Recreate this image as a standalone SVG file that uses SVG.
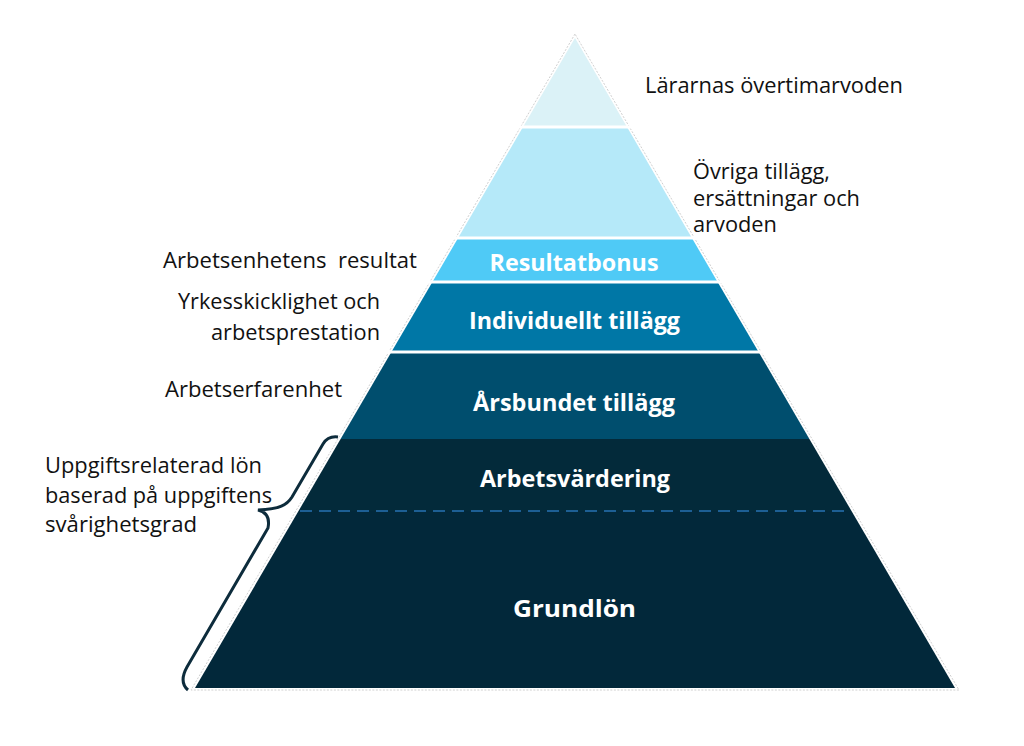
<svg xmlns="http://www.w3.org/2000/svg" width="1024" height="746" viewBox="0 0 1024 746">
<style>
.lbl{font-family:"Open Sans","Noto Sans","Liberation Sans",sans-serif;font-size:21px;fill:#111111}
.bl{font-family:"Open Sans","Noto Sans","Liberation Sans",sans-serif;font-size:24px;font-weight:bold;fill:#ffffff;text-anchor:middle}
.sep{stroke:#ffffff;stroke-width:3}
</style>
<rect width="1024" height="746" fill="#ffffff"/>
<polygon points="575,34 191,690 959,690" fill="none" stroke="#c4c4c4" stroke-width="0.8" stroke-dasharray="2 1.5"/>
<g id="layer-top"><polygon points="575,38 627,127 523,127" fill="#dbf2f7"/></g>
<g id="layer-ovriga"><polygon points="523,127 627,127 691.9,238 458.1,238" fill="#b5e9f9"/></g>
<g id="layer-resultatbonus"><polygon points="458.1,238 691.9,238 717.6,282 432.4,282" fill="#4fcaf6"/><text class="bl" x="574" y="271" textLength="169" lengthAdjust="spacingAndGlyphs">Resultatbonus</text></g>
<g id="layer-individuellt"><polygon points="432.4,282 717.6,282 758.6,352 391.4,352" fill="#0077a6"/><text class="bl" x="574.5" y="329" textLength="211" lengthAdjust="spacingAndGlyphs">Individuellt tillägg</text></g>
<g id="layer-arsbundet"><polygon points="391.4,352 758.6,352 809.4,439 340.6,439" fill="#004e6e"/><text class="bl" x="574" y="411" textLength="202" lengthAdjust="spacingAndGlyphs">Årsbundet tillägg</text></g>
<g id="layer-arbetsvardering"><polygon points="340.6,439 809.4,439 851.5,511 298.5,511" fill="#032a3a"/><text class="bl" x="575" y="487" textLength="190" lengthAdjust="spacingAndGlyphs">Arbetsvärdering</text></g>
<g id="layer-grundlon"><polygon points="298.5,511 851.5,511 955,688 195,688" fill="#02283a"/><text class="bl" x="574.5" y="617" font-size="27" textLength="123" lengthAdjust="spacingAndGlyphs">Grundlön</text></g>
<g id="connectors">
<line class="sep" x1="515" y1="127" x2="635" y2="127"/>
<line class="sep" x1="450" y1="238" x2="700" y2="238"/>
<line class="sep" x1="425" y1="282" x2="725" y2="282"/>
<line class="sep" x1="385" y1="352" x2="765" y2="352"/>
<line x1="300" y1="511" x2="850" y2="511" stroke="#1d5f94" stroke-width="2" stroke-dasharray="12 7"/>
<path d="M 338,437 C 330,436 326,439 323,444 L 292,497 C 287,505 280,509 258,510 C 266,512 270,518 268,528 L 187,667 C 182,676 181,684 188,690" fill="none" stroke="#0d2c3c" stroke-width="3"/>
</g>
<g id="labels">
<text class="lbl" x="645" y="93" textLength="258" lengthAdjust="spacingAndGlyphs">Lärarnas övertimarvoden</text>
<text class="lbl" x="693" y="179" textLength="137" lengthAdjust="spacingAndGlyphs">Övriga tillägg,</text>
<text class="lbl" x="693" y="206" textLength="167" lengthAdjust="spacingAndGlyphs">ersättningar och</text>
<text class="lbl" x="693" y="232" textLength="84" lengthAdjust="spacingAndGlyphs">arvoden</text>
<text class="lbl" x="163" y="268" textLength="254" lengthAdjust="spacingAndGlyphs" style="white-space:pre">Arbetsenhetens  resultat</text>
<text class="lbl" x="178" y="309" textLength="202" lengthAdjust="spacingAndGlyphs">Yrkesskicklighet och</text>
<text class="lbl" x="211" y="340" textLength="169" lengthAdjust="spacingAndGlyphs">arbetsprestation</text>
<text class="lbl" x="165" y="397" textLength="177" lengthAdjust="spacingAndGlyphs">Arbetserfarenhet</text>
<text class="lbl" x="45" y="473" textLength="217" lengthAdjust="spacingAndGlyphs">Uppgiftsrelaterad lön</text>
<text class="lbl" x="45" y="503" textLength="227" lengthAdjust="spacingAndGlyphs">baserad på uppgiftens</text>
<text class="lbl" x="45" y="532" textLength="152" lengthAdjust="spacingAndGlyphs">svårighetsgrad</text>
</g>
</svg>
